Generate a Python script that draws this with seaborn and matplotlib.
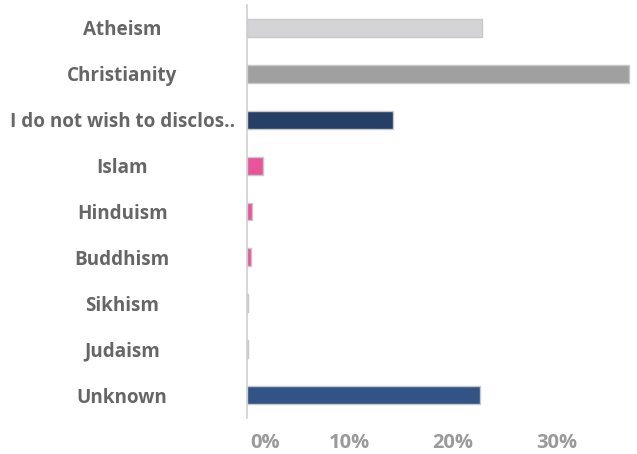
import pandas as pd
import seaborn as sns
import matplotlib.pyplot as plt
from matplotlib.ticker import FuncFormatter
from matplotlib.transforms import ScaledTranslation

# Religion breakdown (share of respondents, %)
religions = ["Atheism", "Christianity", "I do not wish to disclos..", "Islam",
             "Hinduism", "Buddhism", "Sikhism", "Judaism", "Unknown"]
shares = [22.8, 37.0, 14.2, 1.6, 0.55, 0.4, 0.17, 0.17, 22.6]
bar_colors = ["#d4d4d6", "#a0a0a0", "#253f66", "#e8559b",
              "#e8559b", "#e8559b", "#d4d4d6", "#d4d4d6", "#325386"]
x_ticks = [0, 10, 20, 30]

df = pd.DataFrame({"religion": religions, "share": shares})
palette = dict(zip(religions, bar_colors))

sns.set_style("white")
plt.rcParams["font.family"] = ["Open Sans", "DejaVu Sans"]
plt.rcParams["font.weight"] = "bold"

fig = plt.figure(figsize=(6.37, 4.54), dpi=100)
ax = fig.add_axes([246.5 / 637, 1 - 418 / 454, (631 - 246.5) / 637, 413 / 454])

sns.barplot(data=df, x="share", y="religion", hue="religion", palette=palette,
            orient="h", width=0.39, legend=False, edgecolor="#c8c8c8",
            linewidth=1, saturation=1, ax=ax)

ax.set_xlim(0, 37.2)
ax.set_ylim(8.5, -0.5)
ax.set_xlabel("")
ax.set_ylabel("")

for side in ["top", "right", "bottom"]:
    ax.spines[side].set_visible(False)
ax.spines["left"].set_color("#d0d0d0")
ax.spines["left"].set_linewidth(1.2)

ax.set_xticks(x_ticks)
ax.xaxis.set_major_formatter(FuncFormatter(lambda v, p: f"{v:.0f}%"))
ax.tick_params(axis="x", length=5, color="#ececec", pad=6,
               labelsize=14.5, labelcolor="#9a9a9a")
first = ax.get_xticklabels()[0]
first.set_horizontalalignment("left")
first.set_transform(first.get_transform() + ScaledTranslation(3 / 72, 0, fig.dpi_scale_trans))

ax.tick_params(axis="y", length=0, pad=89.5, labelsize=13.6, labelcolor="#666666")
for lab in ax.get_yticklabels():
    lab.set_horizontalalignment("center")

fig.savefig("out.png", dpi=100, facecolor="white")
